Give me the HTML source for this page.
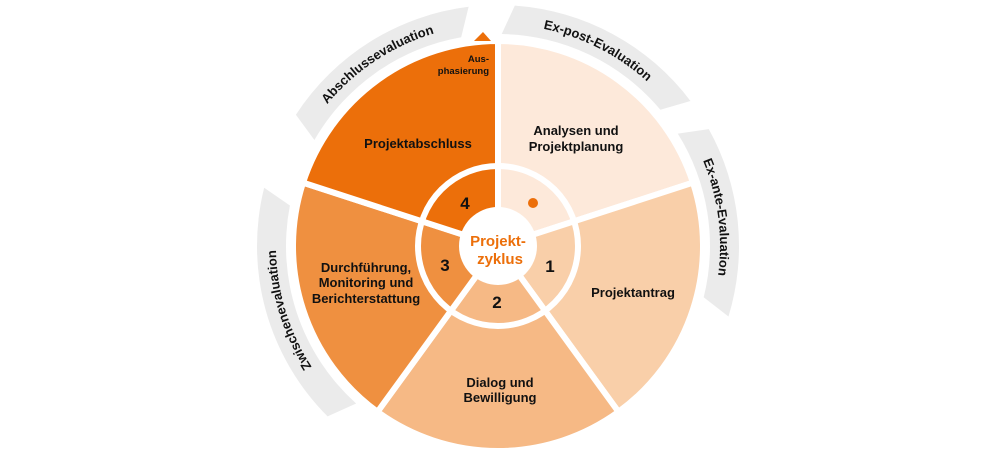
<!DOCTYPE html>
<html><head><meta charset="utf-8"><style>
html,body{margin:0;padding:0;background:#fff;}
svg{display:block;}
text{font-family:"Liberation Sans",sans-serif;font-weight:bold;}
</style></head><body>
<svg id="s" width="1000" height="460" viewBox="0 0 1000 460" xmlns="http://www.w3.org/2000/svg">
<defs>
<path id="pA"/><path id="pB"/><path id="pC"/><path id="pD"/>
</defs>
<g id="bands" fill="#ebebeb"></g>
<g id="sectors" stroke="#fff" stroke-width="6"></g>
<circle cx="498" cy="246" r="80" fill="none" stroke="#fff" stroke-width="6"/>
<circle cx="498" cy="246" r="39" fill="#fff"/>
<polygon points="474,41 483,32 491,41" fill="#ec6f0a"/>
<circle cx="533" cy="203" r="5" fill="#ec6f0a"/>
<g font-size="13" fill="#111" text-anchor="middle">
<text font-size="9.5" text-anchor="end" x="489" y="62">Aus-</text>
<text font-size="9.5" text-anchor="end" x="489" y="74">phasierung</text>
<text x="418" y="148">Projektabschluss</text>
<text x="576" y="135">Analysen und</text>
<text x="576" y="151">Projektplanung</text>
<text x="633" y="297">Projektantrag</text>
<text x="500" y="387">Dialog und</text>
<text x="500" y="402">Bewilligung</text>
<text x="366" y="272">Durchführung,</text>
<text x="366" y="287">Monitoring und</text>
<text x="366" y="303">Berichterstattung</text>
<text font-size="17" x="465" y="209">4</text>
<text font-size="17" x="550" y="272">1</text>
<text font-size="17" x="497" y="308">2</text>
<text font-size="17" x="445" y="271">3</text>
<text font-size="15" fill="#ec6f0a" x="498" y="246">Projekt-</text>
<text font-size="15" fill="#ec6f0a" x="500" y="264">zyklus</text>
<text><textPath href="#pA" startOffset="50%">Abschlussevaluation</textPath></text>
<text><textPath href="#pB" startOffset="50%">Ex-post-Evaluation</textPath></text>
<text><textPath href="#pC" startOffset="50%">Ex-ante-Evaluation</textPath></text>
<text><textPath href="#pD" startOffset="50%">Zwischenevaluation</textPath></text>
</g>
</svg>
<script>
var cx=498,cy=246,R=205;
function P(r,a){a=a*Math.PI/180;return [(cx+r*Math.sin(a)).toFixed(2),(cy-r*Math.cos(a)).toFixed(2)];}
var cols=["#fde9da","#f9cfa9","#f6b985","#ef9040","#ec6f0a"];
var g=document.getElementById("sectors"),ns="http://www.w3.org/2000/svg";
for(var i=0;i<5;i++){var a0=i*72,a1=a0+72,p0=P(R,a0),p1=P(R,a1);
var e=document.createElementNS(ns,"path");
e.setAttribute("d","M"+cx+","+cy+"L"+p0+"A"+R+","+R+" 0 0 1 "+p1+"Z");
e.setAttribute("fill",cols[i]);g.appendChild(e);}
var b=document.getElementById("bands");
function band(a0,a1,d){var ri=212,ro=241;
var s="M"+P(ro,a0+d)+"A"+ro+","+ro+" 0 0 1 "+P(ro,a1+d)+"L"+P(ri,a1)+"A"+ri+","+ri+" 0 0 0 "+P(ri,a0)+"Z";
var e=document.createElementNS(ns,"path");e.setAttribute("d",s);b.appendChild(e);}
band(300,350,3);band(1,50,3);band(58,104,3);band(222,281,3);
function tp(id,a0,a1){var r=222;document.getElementById(id).setAttribute("d","M"+P(r,a0)+"A"+r+","+r+" 0 0 1 "+P(r,a1));}
tp("pA",300,353);tp("pB",1,53);tp("pC",58,107);tp("pD",222,284);
</script>
</body></html>
